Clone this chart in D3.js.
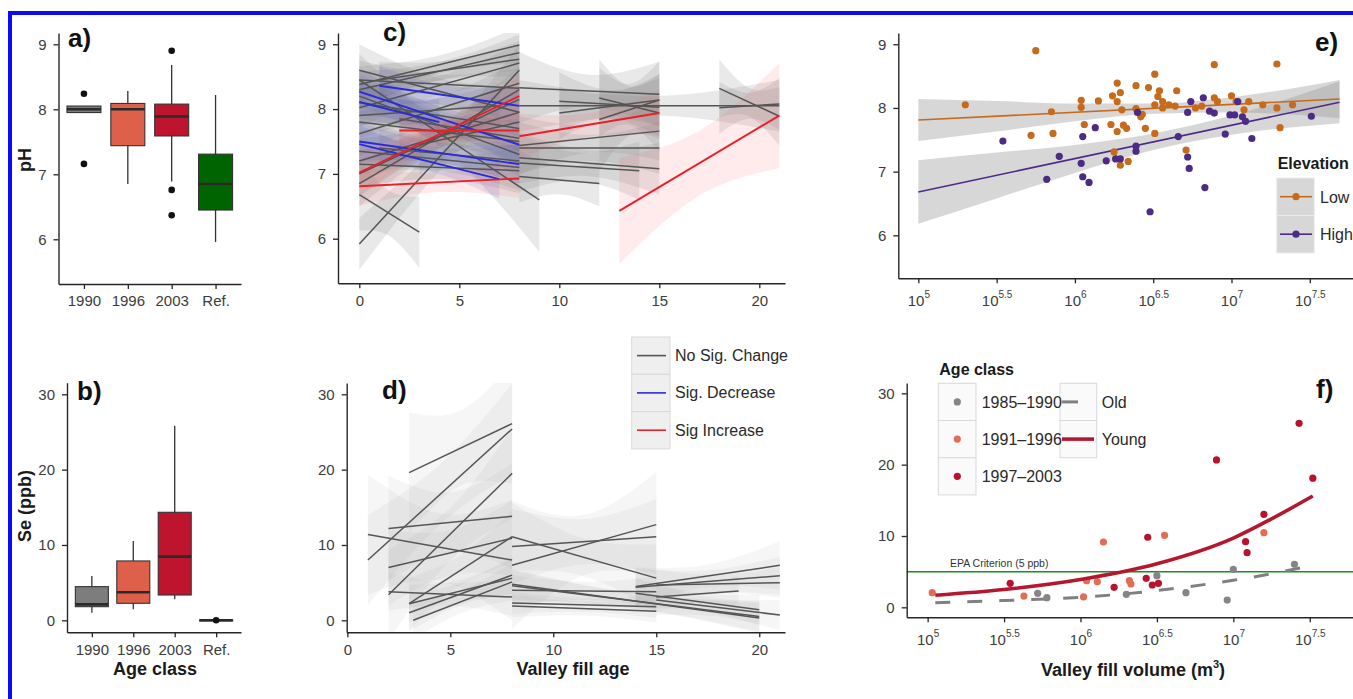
<!DOCTYPE html>
<html>
<head>
<meta charset="utf-8">
<script src="https://cdn.jsdelivr.net/npm/d3@7"></script>
<style>
  body { margin: 0; background: #fff; }
  svg { display: block; }
</style>
</head>
<body>
<svg id="fig" width="1353" height="699"></svg>
<script>
// ---------------- data ----------------
const ageClasses = ["1990", "1996", "2003", "Ref."];
const ageColors = ["#7d7d7d", "#de604b", "#bf142e", "#006400"];

// pH by age class (box statistics)
const phWhiskerLow  = [7.95, 6.85, 6.89, 5.96];
const phQ1          = [7.95, 7.44, 7.59, 6.45];
const phMedian      = [8.00, 8.00, 7.89, 6.85];
const phQ3          = [8.05, 8.09, 8.08, 7.31];
const phWhiskerHigh = [8.05, 8.28, 8.68, 8.22];
const phOutliers    = [[8.24, 7.16], [], [8.90, 6.76, 6.37], []];

// Se by age class (box statistics)
const seWhiskerLow  = [1.02, 1.46, 2.79, 0];
const seQ1          = [1.81, 2.26, 3.36, -0.05];
const seMedian      = [2.12, 3.72, 8.45, 0];
const seQ3          = [4.47, 7.88, 14.34, 0.05];
const seWhiskerHigh = [5.88, 10.53, 25.84, 0];
const seOutliers    = [[], [], [], [0]];

// per-site pH trends vs valley fill age:
// [age start, pH start, age end, pH end, CI half-width start, middle, end]
const phNoChange = [
  [0, 8.60, 8, 7.95, 0.40, 0.20, 0.40],
  [0, 5.92, 8, 8.60, 0.40, 0.22, 0.40],
  [0, 6.68, 3, 6.10, 0.55, 0.35, 0.55],
  [0, 8.38, 8, 8.99, 0.28, 0.14, 0.28],
  [0, 8.30, 8, 8.87, 0.28, 0.14, 0.28],
  [1, 8.45, 8, 8.77, 0.28, 0.14, 0.28],
  [0, 8.02, 8, 8.71, 0.30, 0.15, 0.30],
  [0, 8.45, 9, 6.60, 0.40, 0.22, 0.80],
  [0, 8.20, 8, 7.30, 0.35, 0.18, 0.35],
  [0, 7.20, 8, 7.95, 0.35, 0.18, 0.35],
  [0, 7.00, 8, 8.15, 0.35, 0.18, 0.35],
  [0, 7.35, 8, 7.10, 0.35, 0.18, 0.35],
  [0, 6.85, 8, 8.30, 0.35, 0.18, 0.35],
  [0, 7.80, 8, 7.50, 0.35, 0.18, 0.35],
  [0, 7.62, 8, 8.40, 0.35, 0.18, 0.35],
  [2, 7.85, 8, 7.55, 0.40, 0.20, 0.40],
  [0, 8.45, 8, 8.32, 0.30, 0.15, 0.30],
  [0, 7.15, 8, 7.05, 0.35, 0.18, 0.35],
  [1, 7.40, 8, 7.20, 0.35, 0.18, 0.35],
  [0, 7.90, 7, 8.05, 0.35, 0.18, 0.35],
  [0, 8.10, 8, 7.70, 0.35, 0.18, 0.35],
  [3, 7.45, 8, 7.80, 0.45, 0.22, 0.45],
  [8, 8.33, 15, 8.23, 0.55, 0.25, 0.50],
  [8, 8.05, 21, 8.05, 0.40, 0.15, 0.40],
  [8, 7.44, 15, 7.66, 0.45, 0.22, 0.45],
  [8, 7.40, 15, 7.40, 0.40, 0.20, 0.40],
  [8, 7.25, 15, 7.08, 0.40, 0.20, 0.40],
  [8, 7.17, 14, 7.05, 0.45, 0.22, 0.45],
  [8, 6.96, 12, 6.85, 0.40, 0.22, 0.35],
  [10, 8.12, 15, 8.03, 0.45, 0.22, 0.45],
  [10, 7.94, 15, 8.14, 0.40, 0.20, 0.40],
  [12, 8.17, 15, 7.94, 0.60, 0.30, 0.60],
  [12, 7.84, 15, 8.14, 0.80, 0.40, 0.60],
  [18, 8.32, 21, 7.89, 0.45, 0.22, 0.45],
  [18, 8.02, 21, 8.08, 0.40, 0.20, 0.40]
];
const phDecrease = [
  [1, 8.36, 8, 8.05, 0.30, 0.15, 0.30],
  [0, 8.27, 8, 7.45, 0.35, 0.18, 0.35],
  [0, 8.11, 4, 7.80, 0.35, 0.20, 0.35],
  [0, 7.50, 8, 7.15, 0.30, 0.15, 0.30],
  [0, 7.46, 7, 6.92, 0.30, 0.15, 0.30]
];
const phIncrease = [
  [0, 6.81, 8, 6.93, 0.30, 0.15, 0.30],
  [0, 7.02, 8, 8.20, 0.35, 0.18, 0.35],
  [2, 7.67, 8, 7.67, 0.30, 0.15, 0.30],
  [8, 7.58, 15, 7.94, 0.35, 0.18, 0.35],
  [13, 6.43, 21, 7.90, 0.82, 0.50, 0.81]
];

// per-site Se trends vs valley fill age (same layout)
const seNoChange = [
  [3, 19.6, 8, 26.1, 8.0, 5.0, 8.0],
  [1, 8.0, 8, 25.4, 6.0, 4.0, 6.0],
  [1, 11.4, 8, 8.0, 8.0, 4.5, 8.0],
  [2, 3.4, 8, 19.5, 6.0, 3.5, 6.0],
  [2, 12.2, 8, 13.8, 7.0, 4.0, 7.0],
  [2, 7.0, 8, 10.9, 5.0, 3.0, 5.0],
  [2, 3.8, 8, 3.1, 2.5, 1.5, 2.5],
  [3, 2.2, 8, 11.1, 3.5, 2.0, 3.5],
  [3, 1.0, 8, 6.0, 2.5, 1.5, 2.5],
  [3.2, 0.0, 8, 5.1, 2.5, 1.5, 2.5],
  [3, 2.2, 8, 5.6, 2.5, 1.5, 2.5],
  [8, 7.3, 15, 12.7, 8.5, 4.0, 7.0],
  [8, 9.8, 15, 11.1, 5.0, 3.0, 5.0],
  [8, 11.1, 15, 5.6, 4.5, 2.5, 4.5],
  [8, 4.8, 20, 0.3, 2.0, 1.0, 2.0],
  [8, 4.6, 20, 0.5, 2.0, 1.0, 2.0],
  [8, 4.0, 15, 3.8, 2.0, 1.2, 2.0],
  [8, 2.3, 15, 1.8, 1.5, 0.9, 1.5],
  [8, 1.9, 15, 1.2, 1.5, 0.9, 1.5],
  [14, 4.5, 21, 7.3, 2.5, 1.5, 3.2],
  [14, 4.4, 21, 5.9, 2.5, 1.5, 2.5],
  [15, 4.7, 21, 5.0, 2.0, 1.2, 2.0],
  [15, 3.1, 19, 3.9, 2.0, 1.2, 2.0],
  [14, 3.6, 20, 1.4, 2.0, 1.2, 2.0],
  [15, 2.7, 21, 0.7, 2.0, 1.2, 2.0]
];

const trendLabels = ["No Sig. Change", "Sig. Decrease", "Sig Increase"];
const trendColors = ["#555555", "#2a2ad6", "#e8202a"];
const trendFills  = ["#888888", "#3a3ad0", "#ff5a5a"];

// pH vs log10 valley fill volume, by elevation
const lowElevation = [
  [5.30, 8.05], [5.75, 8.90], [5.72, 7.57], [5.85, 7.94], [5.86, 7.60],
  [6.04, 8.12], [6.04, 8.01], [6.06, 7.74], [6.15, 8.11], [6.23, 7.74],
  [6.24, 8.19], [6.27, 8.39], [6.27, 8.10], [6.27, 7.63], [6.29, 8.24],
  [6.30, 7.97], [6.25, 7.31], [6.29, 7.10], [6.31, 7.73], [6.33, 7.68],
  [6.34, 7.16], [6.39, 8.35], [6.39, 7.99], [6.42, 7.86], [6.43, 7.90],
  [6.45, 7.68], [6.47, 8.32], [6.51, 8.53], [6.51, 8.05], [6.51, 7.60],
  [6.53, 8.18], [6.54, 8.27], [6.56, 8.10], [6.56, 8.00], [6.60, 8.05],
  [6.64, 8.03], [6.65, 8.27], [6.71, 7.34], [6.77, 8.00], [6.81, 8.03],
  [6.89, 8.68], [6.89, 8.16], [6.91, 8.10], [7.00, 8.19], [7.03, 8.10],
  [7.08, 7.97], [7.11, 8.10], [7.20, 8.05], [7.29, 8.69], [7.29, 8.00],
  [7.31, 7.69], [7.39, 8.05]
];
const highElevation = [
  [5.54, 7.48], [5.90, 7.24], [5.82, 6.88], [6.05, 7.55], [6.04, 7.13],
  [6.05, 6.92], [6.09, 6.83], [6.13, 7.69], [6.20, 7.17], [6.26, 7.20],
  [6.29, 7.20], [6.39, 7.40], [6.39, 7.32], [6.40, 7.93], [6.48, 6.37],
  [6.66, 7.55], [6.72, 7.93], [6.72, 7.23], [6.73, 7.05], [6.74, 8.10],
  [6.82, 8.16], [6.83, 6.75], [6.86, 7.95], [6.89, 7.92], [6.96, 7.59],
  [6.99, 7.89], [7.02, 7.89], [7.04, 8.10], [7.07, 7.86], [7.09, 7.79],
  [7.13, 7.52], [7.51, 7.87]
];
const elevationLabels = ["Low", "High"];
const elevationColors = ["#c66a1c", "#4c2b86"];
const lowFit  = [[5.0, 7.81], [7.69, 8.14]];
const highFit = [[5.0, 6.68], [7.69, 8.09]];
// [log10 volume, lower CI, upper CI]
const lowBand  = [[5.0, 7.48, 8.14], [5.5, 7.63, 8.11], [6.0, 7.79, 8.07], [6.5, 7.91, 8.07], [7.0, 7.93, 8.17], [7.69, 7.84, 8.44]];
const highBand = [[5.0, 6.18, 7.18], [5.5, 6.58, 7.30], [6.0, 6.98, 7.42], [6.5, 7.34, 7.60], [7.0, 7.58, 7.88], [7.69, 7.76, 8.42]];

// Se vs log10 valley fill volume, by age class
const se1985 = [[5.72, 1.96], [5.78, 1.35], [6.30, 1.82], [6.50, 4.43], [6.69, 2.05], [6.96, 1.02], [7.00, 5.33], [7.40, 6.03]];
const se1991 = [[5.03, 2.05], [5.63, 1.58], [6.02, 1.45], [6.04, 3.73], [6.11, 3.60], [6.15, 9.16], [6.32, 3.73], [6.33, 3.27], [6.55, 10.1], [7.20, 10.46]];
const se1997 = [[5.54, 3.36], [6.22, 2.80], [6.44, 9.82], [6.43, 4.07], [6.47, 3.13], [6.51, 3.36], [6.89, 20.66], [7.08, 9.20], [7.09, 7.66], [7.20, 13.04], [7.43, 25.8], [7.52, 18.1]];
const seAgeLabels = ["1985\u20131990", "1991\u20131996", "1997\u20132003"];
const seAgeColors = ["#858585", "#e26d57", "#b8122f"];
const youngFit = [[5.05, 1.7], [5.5, 2.5], [6.0, 3.9], [6.5, 6.1], [7.0, 9.7], [7.25, 12.4], [7.52, 15.6]];
const oldFit   = [[5.05, 0.65], [5.5, 0.95], [6.0, 1.4], [6.5, 2.35], [7.0, 3.8], [7.25, 4.7], [7.52, 5.9]];
const epaCriterion = 5;

const logTickExps = ["5", "5.5", "6", "6.5", "7", "7.5"];

// ---------------- drawing helpers ----------------
const FONT = "'Liberation Sans', Arial, Helvetica, sans-serif";
const INK = "#262626";
const TICK_TEXT = "#3c3c3c";
const svg = d3.select("#fig").style("font-family", FONT);

// figure frame
svg.append("rect").attr("x", 8).attr("y", 11).attr("width", 1345).attr("height", 4).attr("fill", "#0a0af5");
svg.append("rect").attr("x", 8).attr("y", 11).attr("width", 4).attr("height", 688).attr("fill", "#0a0af5");

function clipRect(id, x0, y0, x1, y1) {
  svg.append("clipPath").attr("id", id).append("rect")
    .attr("x", x0).attr("y", y0).attr("width", x1 - x0).attr("height", y1 - y0);
  return `url(#${id})`;
}

function styleAxis(g) {
  g.attr("font-family", FONT).attr("font-size", 15);
  g.select(".domain").attr("stroke", INK).attr("stroke-width", 1.4);
  g.selectAll(".tick line").attr("stroke", INK).attr("stroke-width", 1.3);
  g.selectAll(".tick text").attr("fill", TICK_TEXT);
}

function bottomAxis(scale, yPos, opts = {}) {
  const ax = d3.axisBottom(scale).tickSize(5).tickSizeOuter(0).tickPadding(opts.pad ?? 6);
  if (opts.values) ax.tickValues(opts.values);
  if (opts.format) ax.tickFormat(opts.format);
  const g = svg.append("g").attr("transform", `translate(0,${yPos})`).call(ax);
  styleAxis(g);
  return g;
}

function leftAxis(scale, xPos, values) {
  const ax = d3.axisLeft(scale).tickSize(5).tickSizeOuter(0).tickPadding(7)
    .tickValues(values).tickFormat(d3.format("d"));
  const g = svg.append("g").attr("transform", `translate(${xPos},0)`).call(ax);
  styleAxis(g);
  return g;
}

function logLabels(g, dy) {
  g.selectAll(".tick").each(function (d, i) {
    const t = d3.select(this).append("text")
      .attr("y", dy).attr("text-anchor", "middle").attr("fill", TICK_TEXT)
      .style("font-size", "15px");
    t.append("tspan").text("10");
    t.append("tspan").attr("dy", -8).style("font-size", "10px").text(logTickExps[i]);
  });
}

function panelLabel(txt, x, y) {
  svg.append("text").attr("x", x).attr("y", y).text(txt)
    .attr("font-weight", "bold").attr("font-size", 26).attr("fill", "#111");
}

function yTitle(txt, x, y) {
  svg.append("text").attr("transform", `translate(${x},${y}) rotate(-90)`)
    .attr("text-anchor", "middle").attr("dy", "0.35em").text(txt)
    .attr("font-weight", "bold").attr("font-size", 18).attr("fill", "#1a1a1a");
}

function xTitle(x, y) {
  return svg.append("text").attr("x", x).attr("y", y).attr("text-anchor", "middle")
    .attr("font-weight", "bold").attr("font-size", 18).attr("fill", "#1a1a1a");
}

function boxplot(x, y, stats, boxW) {
  const g = svg.append("g");
  ageClasses.forEach((c, i) => {
    const cx = x(c);
    g.append("line").attr("x1", cx).attr("x2", cx)
      .attr("y1", y(stats.hi[i])).attr("y2", y(stats.lo[i]))
      .attr("stroke", "#333").attr("stroke-width", 1.3);
    g.append("rect").attr("x", cx - boxW / 2).attr("width", boxW)
      .attr("y", y(stats.q3[i])).attr("height", Math.max(1, y(stats.q1[i]) - y(stats.q3[i])))
      .attr("fill", ageColors[i]).attr("stroke", "#333").attr("stroke-width", 1.1);
    g.append("line").attr("x1", cx - boxW / 2).attr("x2", cx + boxW / 2)
      .attr("y1", y(stats.med[i])).attr("y2", y(stats.med[i]))
      .attr("stroke", "#2a2a2a").attr("stroke-width", 2.6);
    stats.out[i].forEach(v => {
      g.append("circle").attr("cx", cx).attr("cy", y(v)).attr("r", 3.3).attr("fill", "#111");
    });
  });
}

function trendBand(t) {
  const [x0, y0, x1, y1, w0, wm, w1] = t;
  const xm = (x0 + x1) / 2, ym = (y0 + y1) / 2;
  return [[x0, y0 - w0, y0 + w0], [xm, ym - wm, ym + wm], [x1, y1 - w1, y1 + w1]];
}

function trendPanel(x, y, groups, clip, bandOpacity) {
  const area = d3.area().x(d => x(d[0])).y0(d => y(d[1])).y1(d => y(d[2])).curve(d3.curveNatural);
  const gb = svg.append("g").attr("clip-path", clip);
  groups.forEach(([rows, k]) => {
    rows.forEach(t => {
      gb.append("path").attr("d", area(trendBand(t)))
        .attr("fill", trendFills[k]).attr("fill-opacity", bandOpacity[k]);
    });
  });
  const gl = svg.append("g").attr("clip-path", clip);
  groups.forEach(([rows, k]) => {
    rows.forEach(t => {
      gl.append("line").attr("x1", x(t[0])).attr("y1", y(t[1])).attr("x2", x(t[2])).attr("y2", y(t[3]))
        .attr("stroke", trendColors[k]).attr("stroke-width", k === 0 ? 1.5 : 1.9);
    });
  });
}

// ---------------- a) pH boxplots ----------------
{
  const x = d3.scalePoint().domain(ageClasses).range([58.5, 241]).padding(0.58);
  const y = d3.scaleLinear().domain([5.312, 9.174]).range([284, 33]);
  boxplot(x, y, { lo: phWhiskerLow, q1: phQ1, med: phMedian, q3: phQ3, hi: phWhiskerHigh, out: phOutliers }, 34);
  bottomAxis(x, 284, { pad: 6 });
  leftAxis(y, 58.5, [6, 7, 8, 9]);
  yTitle("pH", 25, 160);
  panelLabel("a)", 68, 47);
}

// ---------------- b) Se boxplots ----------------
{
  const x = d3.scalePoint().domain(ageClasses).range([67, 241]).padding(0.6);
  const y = d3.scaleLinear().domain([-1.59, 31.54]).range([632.3, 382.7]);
  boxplot(x, y, { lo: seWhiskerLow, q1: seQ1, med: seMedian, q3: seQ3, hi: seWhiskerHigh, out: seOutliers }, 33);
  bottomAxis(x, 632.3, { pad: 7 });
  leftAxis(y, 67, [0, 10, 20, 30]);
  yTitle("Se (ppb)", 25, 506);
  xTitle(155, 675).text("Age class");
  panelLabel("b)", 77, 400);
}

// ---------------- c) pH trends by site ----------------
{
  const x = d3.scaleLinear().domain([-1.065, 21.285]).range([338, 785]);
  const y = d3.scaleLinear().domain([5.312, 9.174]).range([283.3, 33]);
  const clip = clipRect("clipC", 338, 33, 785, 283.3);
  trendPanel(x, y, [[phNoChange, 0], [phDecrease, 1], [phIncrease, 2]], clip, [0.19, 0.12, 0.12]);
  bottomAxis(x, 283.3, { pad: 7, values: [0, 5, 10, 15, 20] });
  leftAxis(y, 338, [6, 7, 8, 9]);
  panelLabel("c)", 383, 41);
}

// ---------------- d) Se trends by site ----------------
{
  const x = d3.scaleLinear().domain([-0.03, 21.25]).range([346.7, 785]);
  const y = d3.scaleLinear().domain([-1.59, 31.5]).range([632.3, 383]);
  const clip = clipRect("clipD", 346.7, 383, 785, 632.3);
  trendPanel(x, y, [[seNoChange, 0]], clip, [0.08, 0.1, 0.1]);
  bottomAxis(x, 632.3, { pad: 7, values: [0, 5, 10, 15, 20] });
  leftAxis(y, 346.7, [0, 10, 20, 30]);
  xTitle(573, 675).text("Valley fill age");
  panelLabel("d)", 382, 399);

  // trend legend
  const lg = svg.append("g");
  trendLabels.forEach((lab, i) => {
    const ky = 337 + i * 37.3;
    lg.append("rect").attr("x", 631.7).attr("y", ky).attr("width", 38.3).attr("height", 37.3)
      .attr("fill", "#efefef").attr("stroke", "#d9d9d9").attr("stroke-width", 1);
    lg.append("line").attr("x1", 637).attr("x2", 666).attr("y1", ky + 18.6).attr("y2", ky + 18.6)
      .attr("stroke", trendColors[i]).attr("stroke-width", 1.6);
    lg.append("text").attr("x", 675).attr("y", ky + 24).text(lab)
      .attr("font-size", 16).attr("fill", "#2a2a2a");
  });
}

// ---------------- e) pH vs fill volume ----------------
{
  const x = d3.scaleLog().domain([10 ** 4.872, 10 ** 7.776]).range([898.3, 1353]);
  const y = d3.scaleLinear().domain([5.325, 9.177]).range([278.3, 33]);
  const clip = clipRect("clipE", 898.3, 33, 1353, 278.3);
  const area = d3.area().x(d => x(10 ** d[0])).y0(d => y(d[1])).y1(d => y(d[2])).curve(d3.curveMonotoneX);
  const g = svg.append("g").attr("clip-path", clip);
  [lowBand, highBand].forEach(b => {
    g.append("path").attr("d", area(b)).attr("fill", "#9a9a9a").attr("fill-opacity", 0.4);
  });
  const line = d3.line().x(d => x(10 ** d[0])).y(d => y(d[1]));
  [lowFit, highFit].forEach((f, i) => {
    g.append("path").attr("d", line(f)).attr("fill", "none")
      .attr("stroke", elevationColors[i]).attr("stroke-width", 1.6);
  });
  [lowElevation, highElevation].forEach((pts, i) => {
    g.selectAll(null).data(pts).enter().append("circle")
      .attr("cx", d => x(10 ** d[0])).attr("cy", d => y(d[1])).attr("r", 3.6)
      .attr("fill", elevationColors[i]);
  });
  const xa = bottomAxis(x, 278.3, { values: logTickExps.map(e => 10 ** +e), format: () => "" });
  logLabels(xa, 28);
  leftAxis(y, 898.3, [6, 7, 8, 9]);
  panelLabel("e)", 1315, 51);

  // elevation legend
  svg.append("text").attr("x", 1277.7).attr("y", 169).text("Elevation")
    .attr("font-weight", "bold").attr("font-size", 16).attr("fill", "#1a1a1a");
  elevationLabels.forEach((lab, i) => {
    const ky = 178 + i * 37.5;
    svg.append("rect").attr("x", 1276.7).attr("y", ky).attr("width", 37.6).attr("height", 37.5)
      .attr("fill", "#d7d7d7").attr("stroke", "#ebebeb").attr("stroke-width", 1);
    svg.append("line").attr("x1", 1280).attr("x2", 1312).attr("y1", ky + 18.7).attr("y2", ky + 18.7)
      .attr("stroke", elevationColors[i]).attr("stroke-width", 1.6);
    svg.append("circle").attr("cx", 1296).attr("cy", ky + 18.7).attr("r", 3.6).attr("fill", elevationColors[i]);
    svg.append("text").attr("x", 1320).attr("y", ky + 24.5).text(lab)
      .attr("font-size", 16).attr("fill", "#2a2a2a");
  });
}

// ---------------- f) Se vs fill volume ----------------
{
  const x = d3.scaleLog().domain([10 ** 4.863, 10 ** 7.783]).range([906.7, 1353]);
  const y = d3.scaleLinear().domain([-1.40, 31.45]).range([617.3, 383]);
  const clip = clipRect("clipF", 906.7, 383, 1353, 617.3);
  const g = svg.append("g").attr("clip-path", clip);
  g.append("line").attr("x1", 906.7).attr("x2", 1353).attr("y1", y(epaCriterion)).attr("y2", y(epaCriterion))
    .attr("stroke", "#1e8c1e").attr("stroke-width", 1.5);
  g.append("text").attr("x", 950).attr("y", y(epaCriterion) - 5).text("EPA Criterion (5 ppb)")
    .attr("font-size", 10.5).attr("fill", "#333");
  const line = d3.line().x(d => x(10 ** d[0])).y(d => y(d[1])).curve(d3.curveMonotoneX);
  g.append("path").attr("d", line(oldFit)).attr("fill", "none")
    .attr("stroke", "#808080").attr("stroke-width", 3).attr("stroke-dasharray", "15,17");
  [se1985, se1991, se1997].forEach((pts, i) => {
    g.selectAll(null).data(pts).enter().append("circle")
      .attr("cx", d => x(10 ** d[0])).attr("cy", d => y(d[1])).attr("r", 3.6)
      .attr("fill", seAgeColors[i]);
  });
  g.append("path").attr("d", line(youngFit)).attr("fill", "none")
    .attr("stroke", "#b5172f").attr("stroke-width", 3.6);
  const xa = bottomAxis(x, 617.3, { values: logTickExps.map(e => 10 ** +e), format: () => "" });
  logLabels(xa, 28);
  leftAxis(y, 906.7, [0, 10, 20, 30]);
  const t = xTitle(1133, 676);
  t.append("tspan").text("Valley fill volume (m");
  t.append("tspan").attr("dy", -8).attr("font-size", 11).text("3");
  t.append("tspan").attr("dy", 8).text(")");
  panelLabel("f)", 1316, 398);

  // age class legend: key boxes first, then symbols and labels on top
  svg.append("text").attr("x", 939.3).attr("y", 375).text("Age class")
    .attr("font-weight", "bold").attr("font-size", 16).attr("fill", "#1a1a1a");
  const fitLabels = ["Old", "Young"];
  const keys = svg.append("g"), marks = svg.append("g");
  seAgeLabels.forEach((lab, i) => {
    const ky = 383.3 + i * 37.2;
    keys.append("rect").attr("x", 938.3).attr("y", ky).attr("width", 37.7).attr("height", 37.2)
      .attr("fill", "#fafafa").attr("stroke", "#d9d9d9").attr("stroke-width", 1);
    marks.append("circle").attr("cx", 957.3).attr("cy", ky + 18.6).attr("r", 3.6).attr("fill", seAgeColors[i]);
    marks.append("text").attr("x", 981.7).attr("y", ky + 24.5).text(lab)
      .attr("font-size", 16).attr("fill", "#2a2a2a");
  });
  fitLabels.forEach((lab, i) => {
    const ky = 383.3 + i * 37.2;
    keys.append("rect").attr("x", 1060).attr("y", ky).attr("width", 36.7).attr("height", 37.2)
      .attr("fill", "#fafafa").attr("stroke", "#d9d9d9").attr("stroke-width", 1);
    marks.append("line").attr("x1", 1062).attr("x2", 1094).attr("y1", ky + 18.6).attr("y2", ky + 18.6)
      .attr("stroke", i === 0 ? "#808080" : "#b5172f").attr("stroke-width", i === 0 ? 3 : 3.6)
      .attr("stroke-dasharray", i === 0 ? "16,40" : null);
    marks.append("text").attr("x", 1101.7).attr("y", ky + 24.5).text(lab)
      .attr("font-size", 16).attr("fill", "#2a2a2a");
  });
}
</script>
</body>
</html>
